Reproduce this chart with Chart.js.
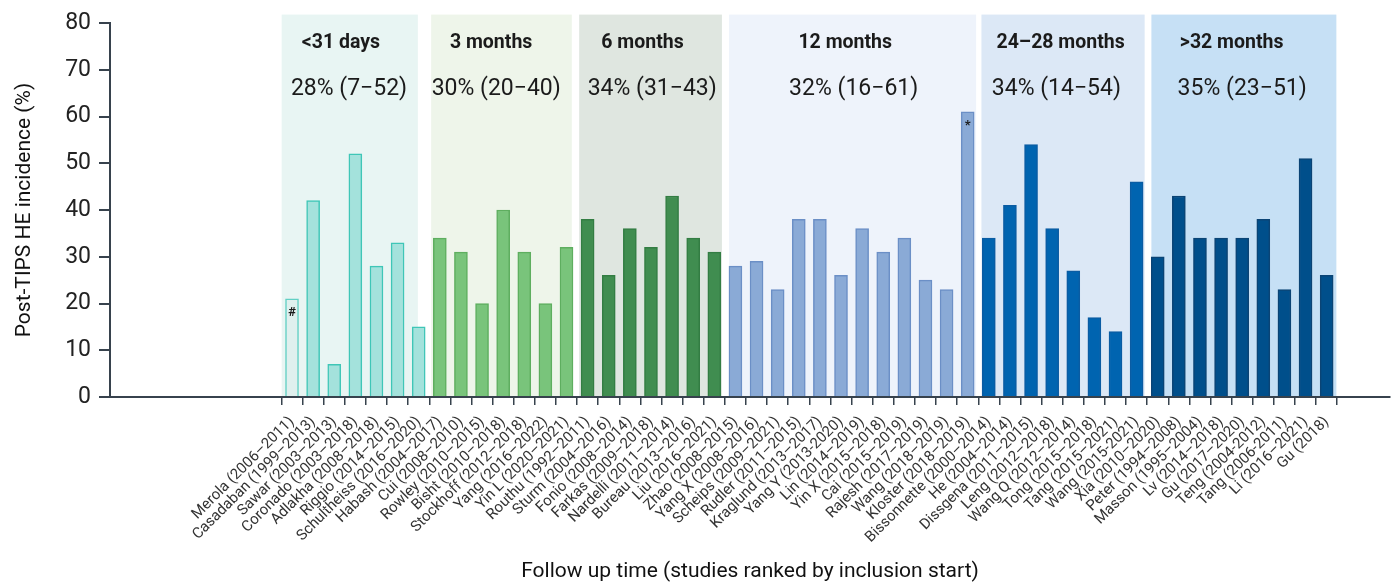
<!DOCTYPE html>
<html>
<head>
<meta charset="utf-8">
<script src="https://cdn.jsdelivr.net/npm/chart.js@4"></script>
<style>
  html, body { margin: 0; padding: 0; background: #fff; }
  #wrap { width: 1394px; height: 587px; position: relative; }
</style>
</head>
<body>
<div id="wrap"><canvas id="chart"></canvas></div>
<script>
// studies ranked by inclusion start
const studies = [
  'Merola (2006–2011)', 'Casadaban (1999–2013)', 'Sawar (2003–2013)', 'Coronado (2003–2018)',
  'Adlakha (2008–2018)', 'Riggio (2014–2015)', 'Schultheiss (2016–2020)',
  'Habash (2004–2017)', 'Cui (2008–2010)', 'Rowley (2010–2015)', 'Bisht (2010–2018)',
  'Stockhoff (2012–2018)', 'Yang (2016–2022)', 'Yin L (2020–2021)',
  'Routhu (1992–2011)', 'Sturm (2004–2016)', 'Fonio (2008–2014)', 'Farkas (2009–2018)',
  'Nardelli (2011–2014)', 'Bureau (2013–2016)', 'Liu (2016–2021)',
  'Zhao (2008–2015)', 'Yang X (2008–2016)', 'Scheips (2009–2021)', 'Rudler (2011–2015)',
  'Kraglund (2013–2017)', 'Yang Y (2013-2020)', 'Lin (2014–2019)', 'Yin X (2015–2018)',
  'Cai (2015–2019)', 'Rajesh (2017–2019)', 'Wang (2018–2019)', 'Kloster (2018–2019)',
  'Bissonnette (2000–2014)', 'He (2004–2014)', 'Dissgena (2011–2015)', 'Leng (2012–2018)',
  'Wang Q (2012–2014)', 'Tong (2015–2018)', 'Tang (2015–2021)', 'Wang (2015-2021)',
  'Xia (2010–2020)', 'Peter (1994–2008)', 'Masson (1995–2004)', 'Lv (2014–2018)',
  'Gu (2017–2020)', 'Teng (2004-2012)', 'Tang (2006-2011)', 'Li (2016–2021)', 'Gu (2018)'
];
const incidence = [
  21, 42, 7, 52, 28, 33, 15,
  34, 31, 20, 40, 31, 20, 32,
  38, 26, 36, 32, 43, 34, 31,
  28, 29, 23, 38, 38, 26, 36, 31, 34, 25, 23, 61,
  34, 41, 54, 36, 27, 17, 14, 46,
  30, 43, 34, 34, 34, 38, 23, 51, 26
];
const groupNames = ['<31 days', '3 months', '6 months', '12 months', '24–28 months', '>32 months'];
const groupSizes = [7, 7, 7, 12, 8, 9];
const groupStats = ['28% (7−52)', '30% (20−40)', '34% (31−43)', '32% (16−61)', '34% (14−54)', '35% (23−51)'];
const yTicks = [0, 10, 20, 30, 40, 50, 60, 70, 80];
// footnote marks: study index -> symbol
const marks = { 0: '#', 32: '*' };

// styling
const AXIS = '#37424d';
const FONT = 'Roboto, "Open Sans", sans-serif';
const barFill = ['#a4e2dc', '#79c47b', '#408d50', '#8aaad6', '#0064b0', '#004f8b'];
const barLine = ['#3fc6b7', '#5eae5f', '#337d43', '#6b8fc6', '#0a5ca3', '#0b4475'];
const bandFill = ['#e8f5f3', '#eef5ea', '#dfe6e0', '#eef3fb', '#dce8f6', '#c6e0f5'];
// band edges and label centres, in category units
const bandEdges = [[-0.49, 5.96], [6.59, 13.25], [13.6, 20.36], [20.7, 32.4], [32.65, 40.38], [40.7, 49.46]];
const headerX = [2.32, 9.43, 16.6, 26.2, 36.4, 44.5];
const statX = [2.7, 9.67, 17.06, 26.6, 36.2, 45.0];

const groupOf = [];
groupSizes.forEach((n, g) => { for (let i = 0; i < n; i++) groupOf.push(g); });

const fills = groupOf.map(g => barFill[g]);
const lines = groupOf.map(g => barLine[g]);
fills[0] = '#dff0ee';
lines[0] = '#62d0c4';

const bands = {
  id: 'bands',
  beforeDraw(chart) {
    const { ctx, scales: { x, y } } = chart;
    const top = y.getPixelForValue(81.8);
    const bottom = y.getPixelForValue(0);
    ctx.save();
    bandEdges.forEach((e, g) => {
      const l = x.getPixelForValue(e[0]);
      const r = x.getPixelForValue(e[1]);
      ctx.fillStyle = bandFill[g];
      ctx.fillRect(l, top, r - l, bottom - top);
    });
    ctx.restore();
  },
  afterDatasetsDraw(chart) {
    const { ctx, scales: { x, y } } = chart;
    ctx.save();
    ctx.fillStyle = '#1b1b1b';
    ctx.textAlign = 'center';
    ctx.textBaseline = 'middle';
    groupNames.forEach((name, g) => {
      ctx.font = 'bold 19.5px ' + FONT;
      ctx.fillText(name, x.getPixelForValue(headerX[g]), y.getPixelForValue(75.7));
      ctx.font = '23px ' + FONT;
      ctx.fillText(groupStats[g], x.getPixelForValue(statX[g]), y.getPixelForValue(65.9));
    });
    const meta = chart.getDatasetMeta(0);
    ctx.font = 'bold 13px ' + FONT;
    Object.keys(marks).forEach(i => {
      const bar = meta.data[i];
      ctx.fillText(marks[i], bar.x, bar.y + 14);
    });
    ctx.restore();
  }
};

new Chart(document.getElementById('chart'), {
  type: 'bar',
  data: {
    datasets: [{
      data: incidence.map((v, i) => ({ x: i, y: v })),
      backgroundColor: fills,
      borderColor: lines,
      borderWidth: 1.5,
      borderSkipped: 'bottom',
      barThickness: 13
    }]
  },
  plugins: [bands],
  options: {
    responsive: true,
    maintainAspectRatio: false,
    animation: false,
    layout: { padding: { top: 23, right: 4, left: 0, bottom: 0 } },
    plugins: { legend: { display: false }, tooltip: { enabled: false } },
    scales: {
      x: {
        type: 'linear',
        min: -8.62,
        max: 52.0,
        offset: false,
        afterBuildTicks: s => { s.ticks = studies.map((_, i) => ({ value: i })); },
        afterFit: s => { s.height = 190; },
        ticks: {
          autoSkip: false,
          minRotation: 45,
          maxRotation: 45,
          padding: 8,
          color: '#333',
          font: { family: FONT, size: 15 },
          callback: v => studies[v]
        },
        grid: { drawOnChartArea: false, drawTicks: true, tickLength: 8, color: AXIS, lineWidth: 1.5 },
        border: { display: true, color: AXIS, width: 2 },
        title: {
          display: true,
          text: 'Follow up time (studies ranked by inclusion start)',
          color: '#111',
          font: { family: FONT, size: 21 },
          padding: { top: 0, bottom: 3 }
        }
      },
      y: {
        min: 0,
        max: 80,
        afterBuildTicks: s => { s.ticks = yTicks.map(v => ({ value: v })); },
        afterFit: s => { s.width = 110; },
        ticks: { color: '#222', padding: 8, font: { family: FONT, size: 23 } },
        grid: { drawOnChartArea: false, drawTicks: true, tickLength: 11, color: AXIS, lineWidth: 2 },
        border: { display: true, color: AXIS, width: 2 },
        title: {
          display: true,
          text: 'Post-TIPS HE incidence (%)',
          color: '#111',
          font: { family: FONT, size: 21 },
          padding: { top: 12, bottom: 0 }
        }
      }
    }
  }
});
</script>
</body>
</html>
